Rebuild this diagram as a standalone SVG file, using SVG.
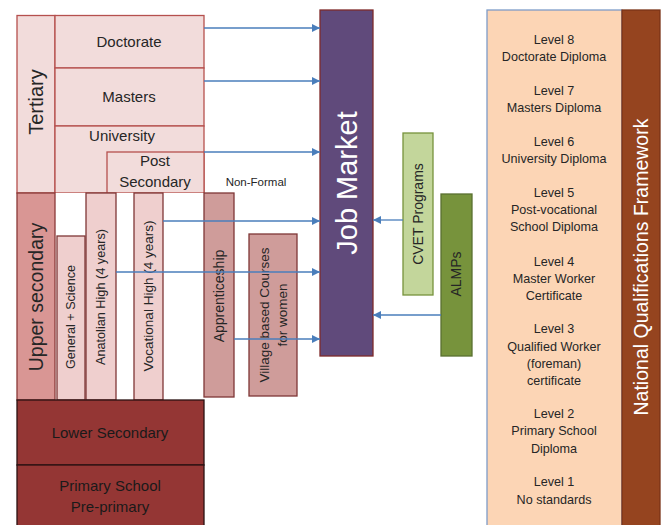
<svg xmlns="http://www.w3.org/2000/svg" width="667" height="525" viewBox="0 0 667 525">
<defs>
<marker id="ah" viewBox="0 0 10 10" refX="10" refY="5" markerWidth="9" markerHeight="8" markerUnits="userSpaceOnUse" orient="auto">
<path d="M0,0 L10,5 L0,10 z" fill="#4a7ebb"/>
</marker>
<style>
text{font-family:"Liberation Sans",Arial,sans-serif;fill:#262626;text-anchor:middle}
.ter{fill:#f2dcdb;stroke:#b5504e;stroke-width:1.3}
.up{fill:#d99694;stroke:#8a3a38;stroke-width:1.3}
.col{fill:#efcfce;stroke:#7f3736;stroke-width:1.3}
.nf{fill:#cf9c9a;stroke:#7f3736;stroke-width:1.3}
.low{fill:#943634;stroke:#2a1212;stroke-width:1.3}
.conn{stroke:#4a7ebb;stroke-width:1.3;fill:none;marker-end:url(#ah)}
.v{dominant-baseline:central}
.lv{font-size:12.6px}
</style>
</defs>
<rect width="667" height="525" fill="#ffffff"/>

<g id="tertiary">
<rect class="ter" x="17" y="15.5" width="38" height="177.5"/>
<text class="v" x="36" y="102" font-size="20" transform="rotate(-90 36 102)">Tertiary</text>
</g>
<g id="doctorate">
<rect class="ter" x="55" y="15.5" width="149" height="52.5"/>
<text x="129" y="47" font-size="15">Doctorate</text>
</g>
<g id="masters">
<rect class="ter" x="55" y="68" width="149" height="58"/>
<text x="129" y="102" font-size="15">Masters</text>
</g>
<g id="university">
<rect class="ter" x="55" y="126" width="149" height="67"/>
<text x="122" y="141" font-size="15">University</text>
</g>
<g id="post-secondary">
<rect class="ter" x="107" y="152" width="97" height="41"/>
<text x="155" y="166" font-size="15">Post</text>
<text x="155" y="187" font-size="15">Secondary</text>
</g>

<rect x="55" y="193" width="149" height="207" fill="#ffffff"/>
<g id="upper-secondary">
<rect class="up" x="17" y="193" width="38" height="207"/>
<text class="v" x="36" y="297" font-size="19.5" transform="rotate(-90 36 297)">Upper secondary</text>
</g>
<g id="general-science">
<rect class="col" x="57" y="236" width="28" height="164"/>
<text class="v" x="71" y="317" font-size="12.6" transform="rotate(-90 71 317)">General + Science</text>
</g>
<g id="anatolian-high">
<rect class="col" x="86" y="193" width="30" height="207"/>
<text class="v" x="101" y="297" font-size="12.7" transform="rotate(-90 101 297)">Anatolian High (4 years)</text>
</g>
<g id="vocational-high">
<rect class="col" x="134" y="193" width="29" height="207"/>
<text class="v" x="148" y="296" font-size="13.5" transform="rotate(-90 148 296)">Vocational High (4 years)</text>
</g>

<g id="non-formal">
<text x="256" y="186" font-size="11.5">Non-Formal</text>
</g>
<g id="apprenticeship">
<rect class="nf" x="204" y="193" width="30" height="204"/>
<text class="v" x="219" y="296" font-size="14" transform="rotate(-90 219 296)">Apprenticeship</text>
</g>
<g id="village-courses">
<rect class="nf" x="249" y="234" width="48" height="162"/>
<text class="v" x="264" y="315" font-size="13.5" transform="rotate(-90 264 315)">Village based Courses</text>
<text class="v" x="282" y="315" font-size="13.5" transform="rotate(-90 282 315)">for women</text>
</g>

<g id="lower-secondary">
<rect class="low" x="17" y="400" width="187" height="65"/>
<text x="110" y="438" font-size="15" style="fill:#1a1a1a">Lower Secondary</text>
</g>
<g id="primary-school">
<rect class="low" x="17" y="465" width="187" height="70"/>
<text x="110" y="491" font-size="15" style="fill:#1a1a1a">Primary School</text>
<text x="110" y="512" font-size="15" style="fill:#1a1a1a">Pre-primary</text>
</g>

<g id="job-market">
<rect x="320" y="10" width="53" height="346" fill="#604a7b" stroke="#7f2a2a" stroke-width="1.3"/>
<text class="v" x="347" y="183" font-size="29" transform="rotate(-90 347 183)" style="fill:#ffffff">Job Market</text>
</g>
<g id="cvet">
<rect x="403" y="133" width="30" height="162" fill="#c3d69b" stroke="#77933c" stroke-width="1.3"/>
<text class="v" x="418" y="214" font-size="14" transform="rotate(-90 418 214)">CVET Programs</text>
</g>
<g id="almps">
<rect x="441" y="194" width="31" height="162" fill="#77933c" stroke="#5a7030" stroke-width="1.3"/>
<text class="v" x="456" y="274" font-size="14" transform="rotate(-90 456 274)">ALMPs</text>
</g>

<g id="nqf-levels">
<rect x="487" y="10" width="135" height="530" fill="#fcd5b5" stroke="#7e9cc8" stroke-width="1.3"/>
<text class="lv" x="554" y="44">Level 8</text>
<text class="lv" x="554" y="61">Doctorate Diploma</text>
<text class="lv" x="554" y="95">Level 7</text>
<text class="lv" x="554" y="112">Masters Diploma</text>
<text class="lv" x="554" y="146">Level 6</text>
<text class="lv" x="554" y="163">University Diploma</text>
<text class="lv" x="554" y="197">Level 5</text>
<text class="lv" x="554" y="214">Post-vocational</text>
<text class="lv" x="554" y="231">School Diploma</text>
<text class="lv" x="554" y="266">Level 4</text>
<text class="lv" x="554" y="283">Master Worker</text>
<text class="lv" x="554" y="300">Certificate</text>
<text class="lv" x="554" y="333">Level 3</text>
<text class="lv" x="554" y="351">Qualified Worker</text>
<text class="lv" x="554" y="368">(foreman)</text>
<text class="lv" x="554" y="385">certificate</text>
<text class="lv" x="554" y="418">Level 2</text>
<text class="lv" x="554" y="435">Primary School</text>
<text class="lv" x="554" y="453">Diploma</text>
<text class="lv" x="554" y="486">Level 1</text>
<text class="lv" x="554" y="504">No standards</text>
</g>
<g id="nqf">
<rect x="622" y="10" width="38" height="530" fill="#95441f" stroke="#7a3418" stroke-width="1.3"/>
<text class="v" x="641" y="267" font-size="19.5" transform="rotate(-90 641 267)" style="fill:#ffffff">National Qualifications Framework</text>
</g>

<g id="connectors">
<line class="conn" x1="204" y1="28" x2="320" y2="28"/>
<line class="conn" x1="204" y1="81" x2="320" y2="81"/>
<line class="conn" x1="204" y1="152" x2="320" y2="152"/>
<line class="conn" x1="163" y1="221" x2="320" y2="221"/>
<line class="conn" x1="116" y1="272" x2="320" y2="272"/>
<line class="conn" x1="234" y1="339" x2="320" y2="339"/>
<line class="conn" x1="403" y1="220" x2="373" y2="220"/>
<line class="conn" x1="441" y1="315" x2="373" y2="315"/>
</g>
</svg>
